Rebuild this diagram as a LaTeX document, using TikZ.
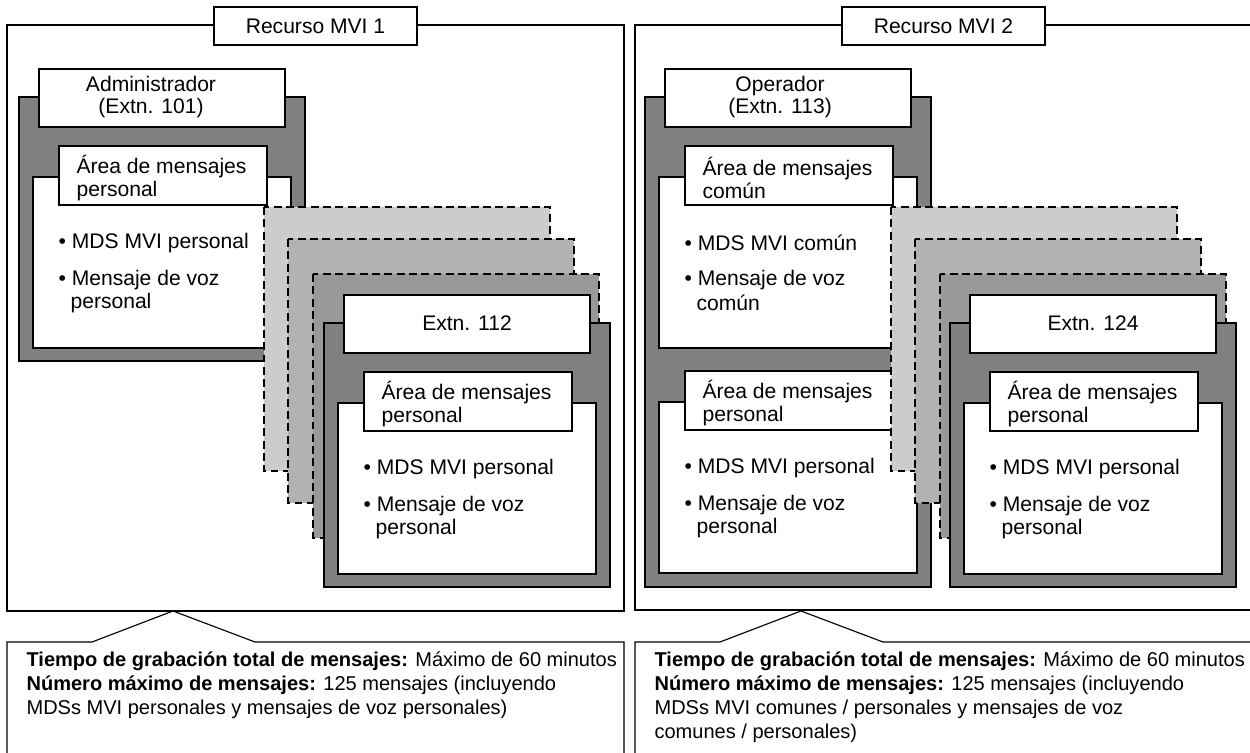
\documentclass[tikz,border=0pt]{standalone}
\usepackage{fontspec}
\setmainfont{Liberation Sans}
\usetikzlibrary{positioning}

% dark frame of one extension with its header
\newcommand{\mviblock}[6]{%
  \draw[darkbox] (#2,#3) rectangle ++(286,#4);
  \draw[whitebox] (#2+20,#3-28) rectangle ++(246,58);
  \node[headtext] (#1) at (#2+#6,#3) {#5};
}
% one message area inside an extension
\newcommand{\mviarea}[4]{%
  \draw[whitebox] (#2+14,#3+80) rectangle ++(258,171);
  \draw[whitebox] (#2+40,#3+49) rectangle ++(208,59);
  \node[areatext] (#1-title) at (#2+57,#3+81) {Área de mensajes\\#4};
  \node[itemtext] (#1-mds) at (#2+39,#3+146) {\textbullet\ MDS MVI #4};
  \node[itemtext] (#1-voz) at (#2+39,#3+183) {\textbullet\ Mensaje de voz};
  \node[itemtext] (#1-vozb) at (#2+51,#3+206) {#4};
}
% callout below a panel
\newcommand{\mvinote}[3]{%
  \draw (#2,753) -- (#2,642) -- (#2+85,642) -- (#2+166,611) -- (#2+248,642) -- (#2+617,642) -- (#2+617,753);
  \node[notetext] (#1) at (#2+19,651) {#3};
}

\begin{document}
\begin{tikzpicture}[x=.02cm, y=-.02cm,
    line width=.65pt,
    font=\fontsize{12}{13}\selectfont,
    paneltitle/.style={draw, fill=white, minimum width=4.06cm, minimum height=.76cm},
    darkbox/.style={draw, fill=black!50},
    whitebox/.style={draw, fill=white},
    stackbox/.style={draw, dash pattern=on 4.5pt off 2.5pt, fill=#1},
    headtext/.style={align=center, inner sep=0pt},
    areatext/.style={align=left, anchor=west, inner sep=0pt},
    itemtext/.style={anchor=west, inner sep=0pt},
    notetext/.style={align=left, anchor=north west, inner sep=0pt,
        font=\fontsize{11.4}{13.6}\selectfont}
    ]
\clip (0,0) rectangle (1250,753);

% Recurso MVI 1
\draw (7,611) rectangle (624,25);
\node[paneltitle] (mvi1) at (315.5,26) {Recurso MVI 1};
\mviblock{admin}{19}{97}{264}{Administrador\\(Extn. 101)}{132}
\mviarea{admin}{19}{97}{personal}
\foreach \dx/\dy/\tone in {0/0/20, 24/32/30, 49/67/40}
    \draw[stackbox=black!\tone] (264+\dx,207+\dy) rectangle ++(286,264);
\mviblock{ext112}{324}{323}{264}{Extn. 112}{143}
\mviarea{ext112}{324}{323}{personal}

% Recurso MVI 2
\draw (1252,610) -- (635,610) -- (635,25) -- (1252,25);
\node[paneltitle] (mvi2) at (943.5,26) {Recurso MVI 2};
\mviblock{oper}{645}{97}{490}{Operador\\(Extn. 113)}{135}
\mviarea{oper}{645}{97}{común}
\mviarea{operb}{645}{322}{personal}
\foreach \dx/\dy/\tone in {0/0/20, 24/32/30, 49/67/40}
    \draw[stackbox=black!\tone] (891+\dx,207+\dy) rectangle ++(286,264);
\mviblock{ext124}{950}{323}{264}{Extn. 124}{143}
\mviarea{ext124}{950}{323}{personal}

% callouts
\mvinote{note1}{7}{\textbf{Tiempo de grabación total de mensajes:} Máximo de 60 minutos\\
    \textbf{Número máximo de mensajes:} 125 mensajes (incluyendo\\
    MDSs MVI personales y mensajes de voz personales)}
\mvinote{note2}{635}{\textbf{Tiempo de grabación total de mensajes:} Máximo de 60 minutos\\
    \textbf{Número máximo de mensajes:} 125 mensajes (incluyendo\\
    MDSs MVI comunes / personales y mensajes de voz\\
    comunes / personales)}
\end{tikzpicture}
\end{document}
